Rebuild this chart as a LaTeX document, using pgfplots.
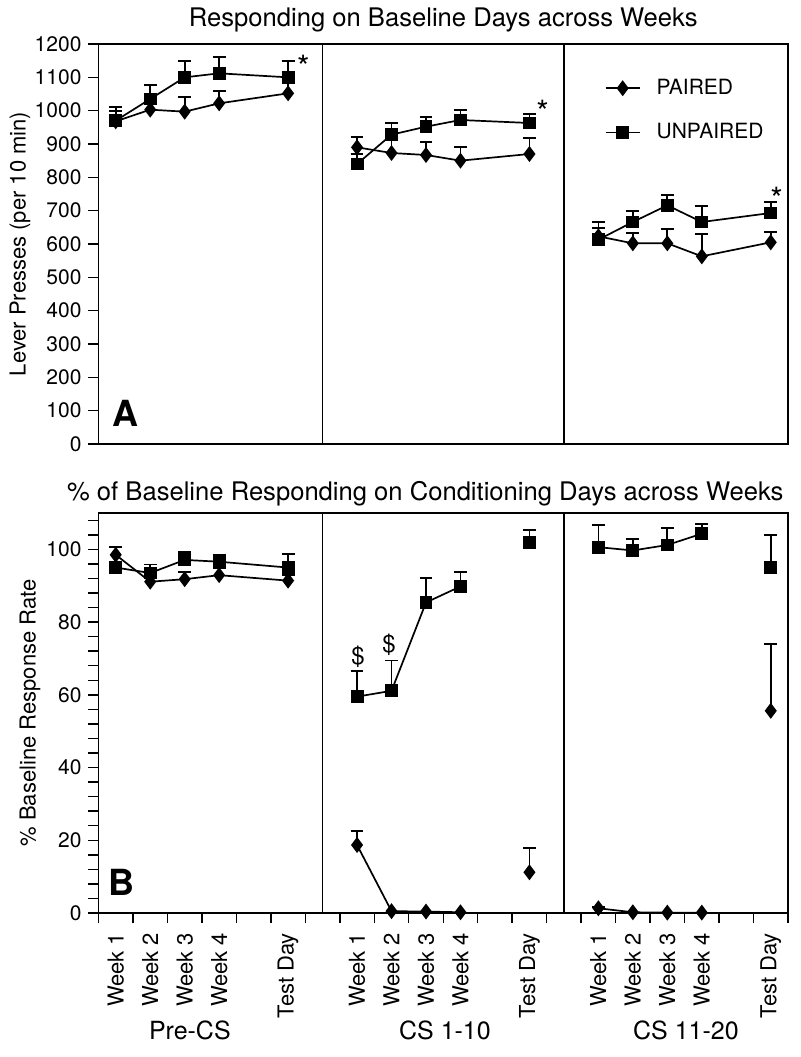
\documentclass[border=0pt]{standalone}
\usepackage{fontspec}
\setmainfont{TeX Gyre Heros}
\usepackage{pgfplots}
\pgfplotsset{compat=1.18}
\begin{document}
\begin{tikzpicture}
\path[use as bounding box] (-49.25pt,-72pt) rectangle (350.75pt,456.5pt);
\pgfplotsset{
  common/.style={
    width=344.75pt, height=200pt, scale only axis,
    xmin=-0.5, xmax=19.5,
    axis line style={line width=0.9pt},
    tick style={black, line width=0.7pt},
    tick align=outside,
    major tick length=5pt, minor tick length=5pt,
    ytick pos=left, xtick pos=bottom,
    /pgf/number format/assume math mode=true,
    /pgf/number format/1000 sep={},
    yticklabel style={font=\fontsize{10.5}{12}\selectfont},
    clip=false,
  },
  pl/.style={black, line width=0.85pt, mark=diamond*, mark size=3.3pt, mark options={solid, fill=black}},
  up/.style={black, line width=0.85pt, mark=square*, mark size=2.8pt, mark options={solid, fill=black}},
  eb/.style={forget plot, draw=none, mark=none, error bars/.cd, y dir=plus, y explicit,
     error bar style={draw=black, line width=0.85pt},
     error mark options={draw=black, line width=0.85pt, mark size=3.2pt, rotate=90}},
}
% ---------------- Panel A ----------------
\begin{axis}[common,
  at={(0pt,234.5pt)}, anchor=south west,
  ymin=0, ymax=1200, ytick={0,100,...,1200},
  xtick=\empty,
  ylabel={Lever Presses (per 10 min)},
  every axis y label/.style={at={(axis description cs:-0.1138,0.5)}, rotate=90, anchor=center, font=\fontsize{11}{13}\selectfont},
  title={Responding on Baseline Days across Weeks},
  every axis title/.style={at={(axis description cs:0.5,1)}, anchor=south, inner sep=0pt, yshift=5.7pt, font=\fontsize{12.8}{15}\selectfont},
  legend style={at={(axis cs:14.0,1120)}, anchor=north west, draw=none, fill=none,
    font=\fontsize{10.5}{12}\selectfont, row sep=9pt,
    /tikz/every odd column/.append style={column sep=6pt}},
  legend cell align=left,
]
\addplot[eb] coordinates {(0,968) +- (0,32) (1,1003) +- (0,30) (2,997) +- (0,45) (3,1022) +- (0,38) (5,1052) +- (0,45)
  (7,890) +- (0,30) (8,873) +- (0,39) (9,867) +- (0,40) (10,850) +- (0,40) (12,870) +- (0,48)
  (14,623) +- (0,25) (15,602) +- (0,30) (16,602) +- (0,44) (17,563) +- (0,68) (19,605) +- (0,30)};
\addplot[eb] coordinates {(0,970) +- (0,40) (1,1035) +- (0,43) (2,1100) +- (0,48) (3,1112) +- (0,50) (5,1100) +- (0,48)
  (7,840) +- (0,30) (8,928) +- (0,34) (9,952) +- (0,28) (10,972) +- (0,30) (12,963) +- (0,27)
  (14,613) +- (0,52) (15,666) +- (0,34) (16,716) +- (0,30) (17,666) +- (0,47) (19,693) +- (0,32)};
\addplot[pl] coordinates {(0,968) (1,1003) (2,997) (3,1022) (5,1052)};
\addlegendentry{PAIRED}
\addplot[up] coordinates {(0,970) (1,1035) (2,1100) (3,1112) (5,1100)};
\addlegendentry{UNPAIRED}
\addplot[pl, forget plot] coordinates {(7,890) (8,873) (9,867) (10,850) (12,870)};
\addplot[up, forget plot] coordinates {(7,840) (8,928) (9,952) (10,972) (12,963)};
\addplot[pl, forget plot] coordinates {(14,623) (15,602) (16,602) (17,563) (19,605)};
\addplot[up, forget plot] coordinates {(14,613) (15,666) (16,716) (17,666) (19,693)};
\draw[line width=0.9pt] (axis cs:6,0) -- (axis cs:6,1200);
\draw[line width=0.9pt] (axis cs:13,0) -- (axis cs:13,1200);
\node[font=\fontsize{16}{16}\selectfont] at (axis cs:5.44,1130) {*};
\node[font=\fontsize{16}{16}\selectfont] at (axis cs:12.38,995) {*};
\node[font=\fontsize{16}{16}\selectfont] at (axis cs:19.17,735) {*};
\node[font=\bfseries\fontsize{18}{20}\selectfont] at (axis cs:0.27,93) {A};
\end{axis}
% ---------------- Panel B ----------------
\begin{axis}[common,
  at={(0pt,0pt)}, anchor=south west,
  ymin=0, ymax=110, ytick={0,20,...,100},
  minor ytick={4,8,12,16,24,28,32,36,44,48,52,56,64,68,72,76,84,88,92,96,104,108},
  xtick={0,1,2,3,5,7,8,9,10,12,14,15,16,17,19},
  xticklabels={Week 1,Week 2,Week 3,Week 4,Test Day,Week 1,Week 2,Week 3,Week 4,Test Day,Week 1,Week 2,Week 3,Week 4,Test Day},
  major x tick style={draw=none},
  minor xtick={-0.5,0.5,...,19.5},
  xticklabel style={rotate=90, anchor=east, font=\fontsize{11}{13}\selectfont},
  xticklabel shift=1.5pt,
  ylabel={\% Baseline Response Rate},
  every axis y label/.style={at={(axis description cs:-0.0993,0.5)}, rotate=90, anchor=center, font=\fontsize{11}{13}\selectfont},
  title={\% of Baseline Responding on Conditioning Days across Weeks},
  every axis title/.style={at={(axis description cs:0.474,1)}, anchor=south, inner sep=0pt, yshift=3.2pt, font=\fontsize{12.8}{15}\selectfont},
]
\addplot[eb] coordinates {(0,98.5) +- (0,2.1) (1,91.1) +- (0,1.5) (2,91.8) +- (0,2.0) (3,92.9) +- (0,1.8) (5,91.4) +- (0,1.5)
  (7,18.7) +- (0,3.9) (12,11.2) +- (0,6.6) (14,1.3) +- (0,0.4) (19,55.6) +- (0,18.3)};
\addplot[eb] coordinates {(0,95) +- (0,1.5) (1,93.5) +- (0,2.3) (2,97.1) +- (0,2.1) (3,96.6) +- (0,1.9) (5,95) +- (0,3.8)
  (7,59.5) +- (0,7.1) (8,61.1) +- (0,8.3) (9,85.4) +- (0,6.7) (10,89.8) +- (0,4.0) (12,101.8) +- (0,3.6)
  (14,100.6) +- (0,6.1) (15,99.7) +- (0,3.1) (16,101.2) +- (0,4.6) (17,104.3) +- (0,2.7) (19,95.1) +- (0,8.9)};
\addplot[up] coordinates {(0,95) (1,93.5) (2,97.1) (3,96.6) (5,95)};
\addplot[pl] coordinates {(0,98.5) (1,91.1) (2,91.8) (3,92.9) (5,91.4)};
\addplot[pl] coordinates {(7,18.7) (8,0.5) (9,0.4) (10,0.2)};
\addplot[pl, only marks] coordinates {(12,11.2)};
\addplot[up] coordinates {(7,59.5) (8,61.1) (9,85.4) (10,89.8)};
\addplot[up, only marks] coordinates {(12,101.8)};
\addplot[pl] coordinates {(14,1.3) (15,0.2) (16,0.1) (17,0.1)};
\addplot[pl, only marks] coordinates {(19,55.6)};
\addplot[up] coordinates {(14,100.6) (15,99.7) (16,101.2) (17,104.3)};
\addplot[up, only marks] coordinates {(19,95.1)};
\draw[line width=0.9pt] (axis cs:6,0) -- (axis cs:6,110);
\draw[line width=0.9pt] (axis cs:13,0) -- (axis cs:13,110);
\node[font=\fontsize{12}{14}\selectfont] at (axis cs:7.03,70.5) {\$};
\node[font=\fontsize{12}{14}\selectfont] at (axis cs:7.93,73.9) {\$};
\node[font=\bfseries\fontsize{18}{20}\selectfont] at (axis cs:0.18,8.3) {B};
\node[font=\fontsize{12.5}{15}\selectfont, yshift=-58.5pt] at (axis cs:2.15,0) {Pre-CS};
\node[font=\fontsize{12.5}{15}\selectfont, yshift=-58.5pt] at (axis cs:9.55,0) {CS 1-10};
\node[font=\fontsize{12.5}{15}\selectfont, yshift=-58.5pt] at (axis cs:16.54,0) {CS 11-20};
\end{axis}
\end{tikzpicture}
\end{document}
